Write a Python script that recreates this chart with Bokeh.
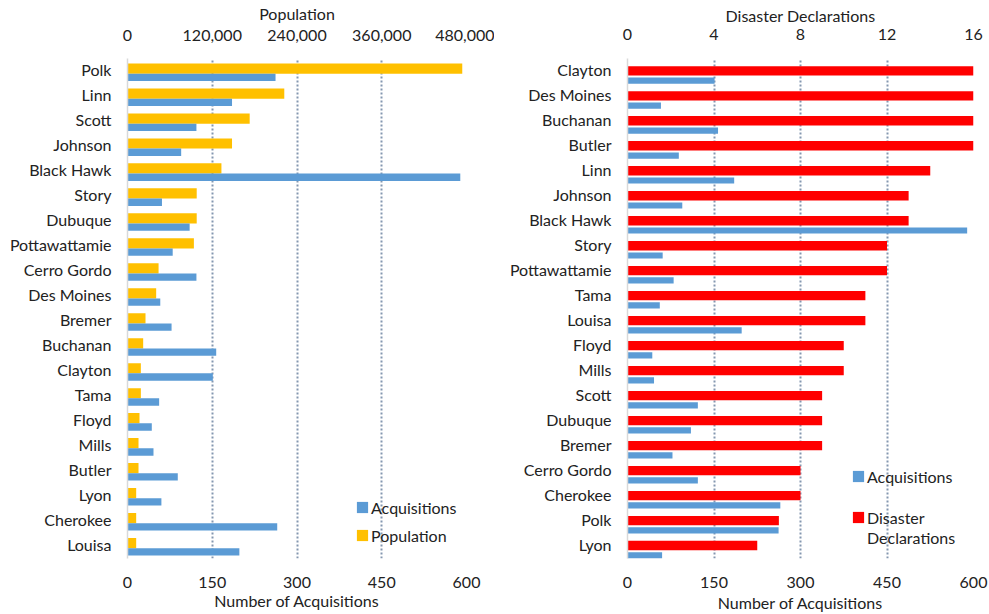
from bokeh.plotting import figure
from bokeh.models import (Range1d, LinearAxis, FixedTicker, NumeralTickFormatter,
                          Legend, LegendItem, ColumnDataSource)
from bokeh.layouts import row
from bokeh.embed import file_html
from bokeh.resources import INLINE

# ---------------- data ----------------
counties = ["Polk", "Linn", "Scott", "Johnson", "Black Hawk", "Story", "Dubuque",
            "Pottawattamie", "Cerro Gordo", "Des Moines", "Bremer", "Buchanan",
            "Clayton", "Tama", "Floyd", "Mills", "Butler", "Lyon", "Cherokee", "Louisa"]
acquisitions = [262, 185, 122, 95, 589, 61, 110, 80, 122, 58, 78, 157,
                151, 56, 43, 46, 89, 60, 265, 198]
population = [474000, 222000, 173000, 148000, 133000, 98000, 98000, 94000, 44000,
              40600, 25500, 22200, 18900, 18900, 17000, 15600, 15600, 12300, 12300, 12300]
declarations = [7, 14, 9, 13, 13, 12, 9, 12, 8, 16, 9, 16, 16, 11, 10, 10, 16, 6, 8, 11]
decl_order = ["Clayton", "Des Moines", "Buchanan", "Butler", "Linn", "Johnson",
              "Black Hawk", "Story", "Pottawattamie", "Tama", "Louisa", "Floyd", "Mills",
              "Scott", "Dubuque", "Bremer", "Cerro Gordo", "Cherokee", "Polk", "Lyon"]

acq_ticks = [0, 150, 300, 450, 600]
pop_ticks = [0, 120000, 240000, 360000, 480000]
decl_ticks = [0, 4, 8, 12, 16]

# ---------------- styles ----------------
FONT = "Lato"
FS = "16px"
TXT = "#222222"
BLUE = "#5B9BD5"
YELLOW = "#FFC000"
RED = "#FF0000"
GRID = "#8497B0"

n = len(counties)
acq_map = dict(zip(counties, acquisitions))
dec_map = dict(zip(counties, declarations))


def style_axis(ax, standoff, label_standoff=0, line_height=None):
    ax.major_label_text_font = FONT
    ax.major_label_text_font_size = FS
    ax.major_label_text_color = TXT
    ax.axis_label_text_font = FONT
    ax.axis_label_text_font_size = FS
    ax.axis_label_text_font_style = "normal"
    ax.axis_label_text_color = TXT
    ax.major_tick_line_color = None
    ax.minor_tick_line_color = None
    ax.major_tick_out = 0
    ax.major_tick_in = 0
    ax.minor_tick_out = 0
    ax.minor_tick_in = 0
    ax.axis_line_color = None
    ax.major_label_standoff = standoff
    ax.axis_label_standoff = label_standoff
    if line_height is not None:
        ax.axis_label_text_line_height = line_height


def base_fig(order, width, bl, br, bt, bb, ylo, yhi):
    p = figure(width=width, height=614, x_range=Range1d(0, 600),
               y_range=Range1d(ylo, yhi), output_backend="svg",
               toolbar_location=None, min_border_left=bl, min_border_right=br,
               min_border_top=bt, min_border_bottom=bb)
    p.outline_line_color = None
    p.background_fill_color = "white"
    p.border_fill_color = "white"
    p.ygrid.visible = False
    p.xgrid.ticker = FixedTicker(ticks=acq_ticks[1:])
    p.xgrid.grid_line_color = GRID
    p.xgrid.grid_line_width = 2
    p.xgrid.grid_line_dash = "2 2"
    yax = p.yaxis[0]
    yax.ticker = FixedTicker(ticks=list(range(n)))
    yax.major_label_overrides = {n - 1 - i: c for i, c in enumerate(order)}
    style_axis(yax, 16)
    yax.axis_line_color = "#D9D9D9"
    yax.axis_line_width = 1.5
    return p


def make_legend(p, items, vx, vy, spacing):
    lg = Legend(items=items, location=(vx, vy), orientation="vertical",
                glyph_width=14, glyph_height=14, label_height=20,
                label_standoff=2, spacing=spacing, padding=0, margin=0,
                border_line_color=None, background_fill_alpha=0,
                label_text_font=FONT, label_text_font_size=FS,
                label_text_color=TXT)
    p.add_layout(lg, "center")


# ---------------- left panel ----------------
left = base_fig(counties, 494, 127, 28, 57, 53, -0.564, 19.457)
left.extra_x_ranges = {"pop": Range1d(0, 480000)}
yl = [n - 1 - i for i in range(n)]
src_l = ColumnDataSource(dict(
    y_pop=[v + 0.0535 for v in yl],
    y_acq=[v - 0.298 for v in yl],
    acq=acquisitions,
    pop=population,
))
r_pop = left.hbar(y="y_pop", left=0, right="pop", height=0.409, source=src_l,
                  fill_color=YELLOW, line_color=None, x_range_name="pop")
r_acq_l = left.hbar(y="y_acq", left=0, right="acq", height=0.294, source=src_l,
                    fill_color=BLUE, line_color=None)

bx = left.xaxis[0]
bx.ticker = FixedTicker(ticks=acq_ticks)
bx.axis_label = "Number of Acquisitions"
style_axis(bx, 18, 0, 0.7)

tx = LinearAxis(x_range_name="pop", ticker=FixedTicker(ticks=pop_ticks),
                formatter=NumeralTickFormatter(format="0,0"), axis_label="Population")
style_axis(tx, 18, 4, 0.8)
left.add_layout(tx, "above")

make_legend(left, [LegendItem(label="Acquisitions", renderers=[r_acq_l]),
                   LegendItem(label="Population", renderers=[r_pop])], 228, 13, 8)

# ---------------- right panel ----------------
right = base_fig(decl_order, 495, 133, 16, 58, 56, -0.552, 19.46)
right.extra_x_ranges = {"dd": Range1d(0, 16)}
yr = [n - 1 - i for i in range(n)]
src_r = ColumnDataSource(dict(
    y_dec=[v - 0.033 for v in yr],
    y_acq=[v - 0.424 for v in yr],
    dec=[dec_map[c] for c in decl_order],
    acq=[acq_map[c] for c in decl_order],
))
r_dec = right.hbar(y="y_dec", left=0, right="dec", height=0.374, source=src_r,
                   fill_color=RED, line_color=None, x_range_name="dd")
r_acq_r = right.hbar(y="y_acq", left=0, right="acq", height=0.248, source=src_r,
                     fill_color=BLUE, line_color=None)
r_blank = right.hbar(y=[], left=[], right=[], height=0.1,
                     fill_alpha=0, line_alpha=0)

bx2 = right.xaxis[0]
bx2.ticker = FixedTicker(ticks=acq_ticks)
bx2.axis_label = "Number of Acquisitions"
style_axis(bx2, 18, 2, 0.8)

tx2 = LinearAxis(x_range_name="dd", ticker=FixedTicker(ticks=decl_ticks),
                 axis_label="Disaster Declarations")
style_axis(tx2, 19, 1, 0.8)
right.add_layout(tx2, "above")

make_legend(right, [LegendItem(label="Acquisitions", renderers=[r_acq_r])], 224, 72, 0)
make_legend(right, [LegendItem(label="Disaster", renderers=[r_dec]),
                    LegendItem(label="Declarations", renderers=[r_blank])], 224, 11, 0)

layout = row(left, right)
open("out.html", "w").write(file_html(layout, INLINE))
